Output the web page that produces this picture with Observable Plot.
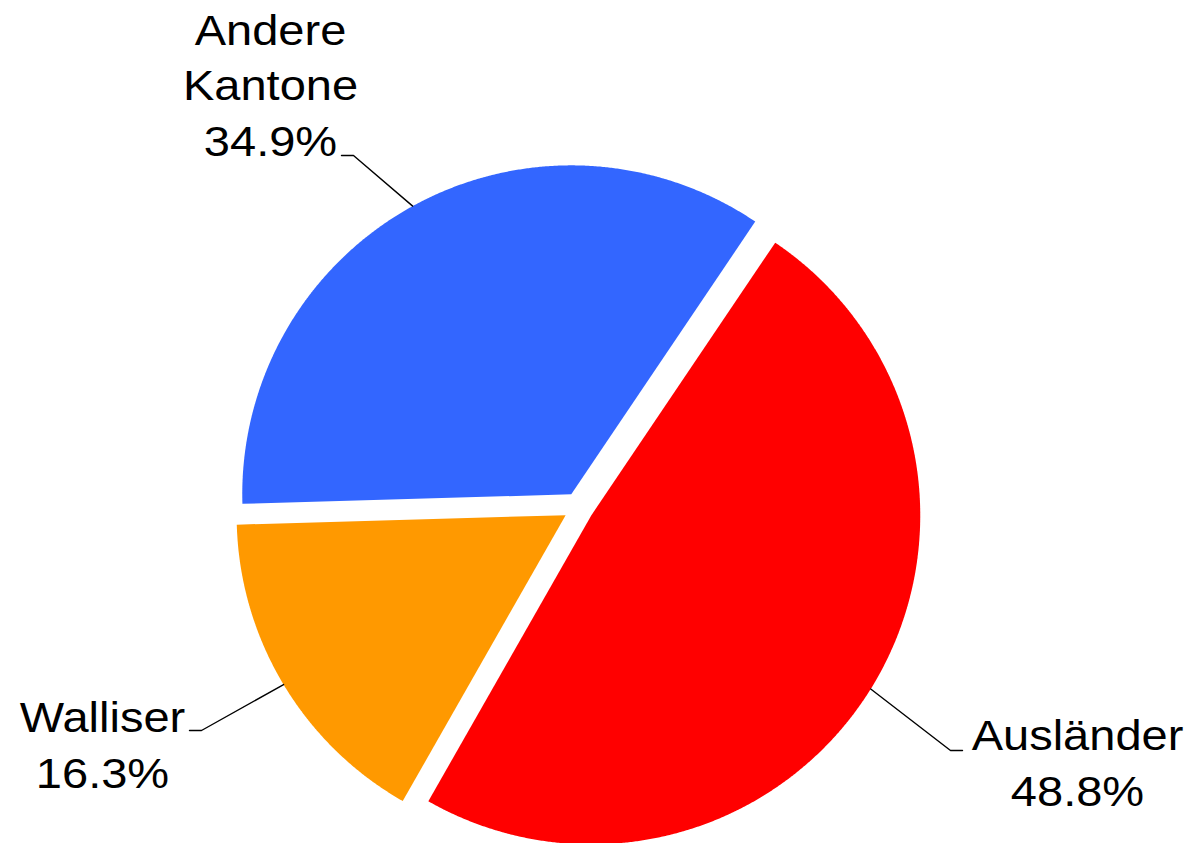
<!DOCTYPE html>
<html><head><meta charset="utf-8">
<script src="https://cdn.jsdelivr.net/npm/d3@7"></script>
<script src="https://cdn.jsdelivr.net/npm/@observablehq/plot@0.6"></script>
<style>
html,body{margin:0;padding:0;background:#fff;}
</style>
</head><body><div id="chart"></div>
<script>
// ---- data ----
const categories = ["Ausländer", "Walliser", "Andere Kantone"];
const labelTexts = ["Ausländer", "Walliser", "Andere\nKantone"];
const shares = [48.8, 16.3, 34.9];

// ---- style / layout ----
const colors = ["#FF0000", "#FF9900", "#3366FF"];
const W = 1194, H = 843;
const R = 329, CX = 578, CY = 507;      // pixel geometry of the pie
const startDeg = 34;                     // first slice starts here (clockwise from 12 o'clock)
const explode = 15 / R;
// label layout in pixels: leader elbow, horizontal direction, text centre x, last baseline y
const labelLayout = [
  {elbow: [950, 750], side: 1, tx: 1077, ty: 805},
  {elbow: [201, 730], side: -1, tx: 102, ty: 787},
  {elbow: [353, 155], side: -1, tx: 270, ty: 155}
];
const ux = px => (px - CX) / R;
const uy = py => (CY - py) / R;
const rad = d => d * Math.PI / 180;

// ---- geometry from data ----
const total = d3.sum(shares);
let acc = 0;
const slices = categories.map((c, i) => {
  const a0 = startDeg + acc / total * 360;
  acc += shares[i];
  const a1 = startDeg + acc / total * 360;
  const mid = (a0 + a1) / 2;
  const ox = explode * Math.sin(rad(mid)), oy = explode * Math.cos(rad(mid));
  return {c, i, a0, a1, mid, ox, oy};
});

const polyPts = [];
for (const s of slices) {
  polyPts.push({c: s.c, x: s.ox, y: s.oy});
  const n = Math.ceil((s.a1 - s.a0) / 0.25);
  for (let k = 0; k <= n; k++) {
    const a = rad(s.a0 + (s.a1 - s.a0) * k / n);
    polyPts.push({c: s.c, x: s.ox + Math.sin(a), y: s.oy + Math.cos(a)});
  }
}

const leaderPts = [];
const labels = [];
for (const s of slices) {
  const L = labelLayout[s.i];
  leaderPts.push({c: s.c, x: s.ox + Math.sin(rad(s.mid)), y: s.oy + Math.cos(rad(s.mid))});
  leaderPts.push({c: s.c, x: ux(L.elbow[0]), y: uy(L.elbow[1])});
  leaderPts.push({c: s.c, x: ux(L.elbow[0] + L.side * 12), y: uy(L.elbow[1])});
  labels.push({c: s.c, x: ux(L.tx), y: uy(L.ty), text: labelTexts[s.i] + "\n" + shares[s.i].toFixed(1) + "%"});
}

function stretch(index, scales, values, dims, context, next) {
  const g = next(index, scales, values, dims, context);
  g.querySelectorAll("text").forEach(t => {
    const tr = t.getAttribute("transform");
    if (tr) t.setAttribute("transform", tr + " scale(1.12,1)");
    else {
      const x = +t.getAttribute("x") || 0, y = +t.getAttribute("y") || 0;
      t.removeAttribute("x"); t.removeAttribute("y");
      t.setAttribute("transform", `translate(${x},${y}) scale(1.12,1)`);
    }
  });
  return g;
}

const chart = Plot.plot({
  width: W, height: H, margin: 0,
  style: {background: "white"},
  x: {domain: [ux(0), ux(W)], range: [0, W], axis: null},
  y: {domain: [uy(H), uy(0)], range: [H, 0], axis: null},
  color: {domain: categories, range: colors},
  marks: [
    Plot.line(polyPts, {x: "x", y: "y", z: "c", fill: "c", stroke: "none", curve: "linear-closed"}),
    Plot.line(leaderPts, {x: "x", y: "y", z: "c", stroke: "black", strokeWidth: 1.4}),
    Plot.text(labels, {x: "x", y: "y", text: "text", fontSize: 42, fontFamily: "Liberation Sans, Arial, sans-serif",
      lineAnchor: "bottom", lineHeight: 1.31, textAnchor: "middle", fill: "black", render: stretch})
  ]
});
document.getElementById("chart").appendChild(chart);
</script>
</body></html>
